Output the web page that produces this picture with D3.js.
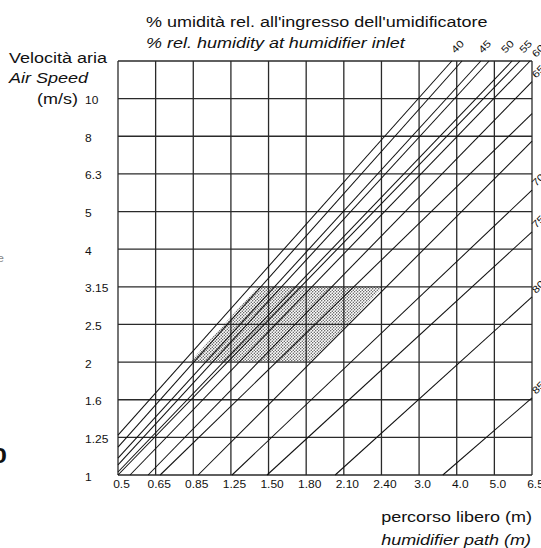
<!DOCTYPE html>
<html>
<head>
<meta charset="utf-8">
<script src="https://cdn.jsdelivr.net/npm/d3@7"></script>
<style>
body { margin: 0; background: #fff; }
svg { display: block; font-family: "Liberation Sans", Arial, sans-serif; }
.grid line { stroke: #2a2a2a; stroke-width: 1.3; }
.rh line { stroke: #111; stroke-width: 1.05; }
</style>
</head>
<body>
<svg width="541" height="548"></svg>
<script>
// axis ticks (both axes are drawn with equal steps)
var xTicks = ["0.5", "0.65", "0.85", "1.25", "1.50", "1.80", "2.10", "2.40", "3.0", "4.0", "5.0", "6.5"];
var yTicks = ["1", "1.25", "1.6", "2", "2.5", "3.15", "4", "5", "6.3", "8", "10", ""];

// inlet RH lines, start and end in grid steps [x step, y step]
var lineStart = [[0, 1.06], [0, 0.74], [0, 0.45], [0, 0.27], [0, 0.08], [0, 0], [0.32, 0],
                 [0.8, 0], [1.12, 0], [2.13, 0], [3.03, 0], [3.96, 0], [5.77, 0], [8.63, 0]];
var lineEnd = [[8.87, 11], [9.14, 11], [9.64, 11], [9.86, 11], [10.47, 11], [10.68, 11], [10.95, 11],
               [11, 10.45], [11, 9.6], [11, 8.87], [11, 7.57], [11, 6.46], [11, 4.73], [11, 2.05]];
// labels written above the top end / beside the right end of each line
var topLabel = ["", "40", "", "45", "50", "", "55", "", "", "", "", "", "", ""];
var sideLabel = ["", "", "", "", "", "", "60", "65", "", "", "70", "75", "80", "85"];

// dotted working zone (grid steps)
var zone = [[1.91, 3], [5.15, 3], [7.04, 5], [3.72, 5]];

var svg = d3.select("svg");

var x = d3.scaleLinear().domain([0, xTicks.length - 1]).range([118, 532]);
var y = d3.scaleLinear().domain([0, yTicks.length - 1]).range([475, 61]);

var defs = svg.append("defs");
var pat = defs.append("pattern")
    .attr("id", "dots")
    .attr("patternUnits", "userSpaceOnUse")
    .attr("width", 3)
    .attr("height", 3);
pat.append("circle").attr("cx", 0.75).attr("cy", 0.75).attr("r", 0.7).attr("fill", "#444");
pat.append("circle").attr("cx", 2.25).attr("cy", 2.25).attr("r", 0.7).attr("fill", "#444");

// stretched Arial-like text, the original type is wide
var sx = 1.2;
function label(g, txt, px, py, size, anchor, opts) {
    opts = opts || {};
    var t = g.append("text")
        .attr("transform", "translate(" + px + "," + py + ")" + (opts.rot ? " rotate(" + opts.rot + ")" : "") + " scale(" + sx + ",1)")
        .attr("font-size", size)
        .attr("text-anchor", anchor)
        .attr("fill", opts.fill || "#111")
        .text(txt);
    if (opts.italic) t.attr("font-style", "italic");
    if (opts.bold) t.attr("font-weight", "bold");
    return t;
}

// zone
svg.append("path")
    .attr("d", d3.line().x(function(d) { return x(d[0]); }).y(function(d) { return y(d[1]); })(zone) + "Z")
    .attr("fill", "url(#dots)")
    .attr("stroke", "none");

// grid
var grid = svg.append("g").attr("class", "grid");
grid.selectAll(".v")
    .data(d3.range(xTicks.length))
    .enter().append("line")
    .attr("x1", function(d) { return x(d); })
    .attr("x2", function(d) { return x(d); })
    .attr("y1", y(0))
    .attr("y2", y(yTicks.length - 1));
grid.selectAll(".h")
    .data(d3.range(yTicks.length))
    .enter().append("line")
    .attr("y1", function(d) { return y(d); })
    .attr("y2", function(d) { return y(d); })
    .attr("x1", x(0))
    .attr("x2", x(xTicks.length - 1));

// RH lines
var rh = svg.append("g").attr("class", "rh");
rh.selectAll("line")
    .data(lineStart)
    .enter().append("line")
    .attr("x1", function(d) { return x(d[0]); })
    .attr("y1", function(d) { return y(d[1]); })
    .attr("x2", function(d, i) { return x(lineEnd[i][0]); })
    .attr("y2", function(d, i) { return y(lineEnd[i][1]); });

var lbl = svg.append("g");
lineEnd.forEach(function(e, i) {
    if (topLabel[i]) label(lbl, topLabel[i], x(e[0]) - 2, y(e[1]) - 12, 10, "middle", {rot: -45});
    if (sideLabel[i]) label(lbl, sideLabel[i], x(11) + 4, y(e[1]) - 3, 10, "start", {rot: -45});
});

// tick labels
var tk = svg.append("g");
xTicks.forEach(function(t, i) {
    label(tk, t, x(i) + 3.5, 487.6, 10, "middle");
});
yTicks.forEach(function(t, i) {
    if (t) label(tk, t, 85, y(i) + 5.5, 10, "start");
});

// titles
var tt = svg.append("g");
label(tt, "% umidità rel. all'ingresso dell'umidificatore", 146, 27, 15, "start");
label(tt, "% rel. humidity at humidifier inlet", 146, 48, 15, "start", {italic: true});
label(tt, "Velocità aria", 9, 63, 15, "start");
label(tt, "Air Speed", 9, 83, 15, "start", {italic: true});
label(tt, "(m/s)", 37, 104, 15, "start");
label(tt, "percorso libero (m)", 532, 522, 15, "end");
label(tt, "humidifier path (m)", 531, 545, 15, "end", {italic: true});

// bits of neighbouring text cut by the crop
label(tt, "e", 4, 262, 10, "end", {fill: "#888"});
label(tt, "0", 7, 463, 22, "end", {bold: true});
</script>
</body>
</html>
